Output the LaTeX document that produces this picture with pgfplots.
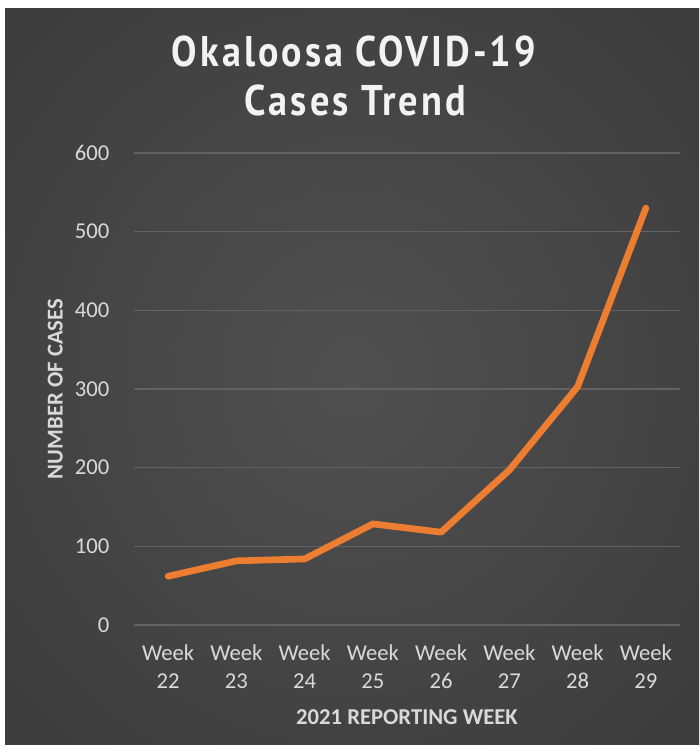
\documentclass[border=0pt]{standalone}
\usepackage{fontspec}
\setmainfont{Carlito}
\newfontfamily\titlefont[LetterSpace=8]{PT Sans}
\usepackage{graphicx}
\usepackage{pgfplots}
\pgfplotsset{compat=1.18}
\definecolor{lineor}{RGB}{237,125,49}
\definecolor{txt}{RGB}{217,217,217}
\definecolor{gridc}{RGB}{98,98,98}
\definecolor{titlec}{RGB}{242,242,242}
\definecolor{bgin}{RGB}{80,80,80}
\definecolor{bgmid}{RGB}{58,58,58}
\definecolor{bgout}{RGB}{36,36,36}
\pgfdeclareradialshading{bgshade}{\pgfpoint{0bp}{0bp}}{color(0bp)=(bgin); color(38bp)=(bgmid); color(72bp)=(bgout)}
\begin{document}
\begin{tikzpicture}[x=1pt,y=1pt]
\fill[white] (0,0) rectangle (524.25,566.25);
\shade[shading=bgshade] (3.75,7.5) rectangle (524.25,559.5);
\node[inner sep=0pt, text=titlec] at (265.5,528) {\resizebox{273pt}{23pt}{\titlefont\bfseries Okaloosa COVID-19}};
\node[inner sep=0pt, text=titlec] at (266.5,491.25) {\resizebox{166pt}{23pt}{\titlefont\bfseries Cases Trend}};
\begin{axis}[
  at={(100.5pt,97.5pt)}, anchor=south west,
  scale only axis, width=409.5pt, height=354pt,
  xmin=-0.5, xmax=7.5, ymin=0, ymax=600,
  ytick={0,100,...,600},
  xtick={0,1,2,3,4,5,6,7},
  xticklabels={Week\\22,Week\\23,Week\\24,Week\\25,Week\\26,Week\\27,Week\\28,Week\\29},
  axis line style={draw=none},
  major tick length=0pt,
  ymajorgrids, grid style={gridc, line width=1pt},
  /pgf/number format/assume math mode=true,
  tick label style={text=txt, font=\fontsize{17pt}{21pt}\selectfont},
  xticklabel style={align=center, yshift=-11pt},
  yticklabel style={xshift=-15pt},
  xlabel={\textbf{2021 REPORTING WEEK}},
  ylabel={\textbf{NUMBER OF CASES}},
  label style={text=txt, font=\fontsize{17pt}{21pt}\selectfont},
  x label style={at={(axis description cs:0.5,-0.195)}, anchor=center},
  y label style={at={(axis description cs:-0.144,0.5)}, anchor=center},
  clip=false,
]
\addplot[lineor, line width=5pt, line join=round, line cap=round] coordinates {
(0,62) (1,81.5) (2,84) (3,128.5) (4,118) (5,197) (6,303) (7,530)};
\end{axis}
\end{tikzpicture}
\end{document}
